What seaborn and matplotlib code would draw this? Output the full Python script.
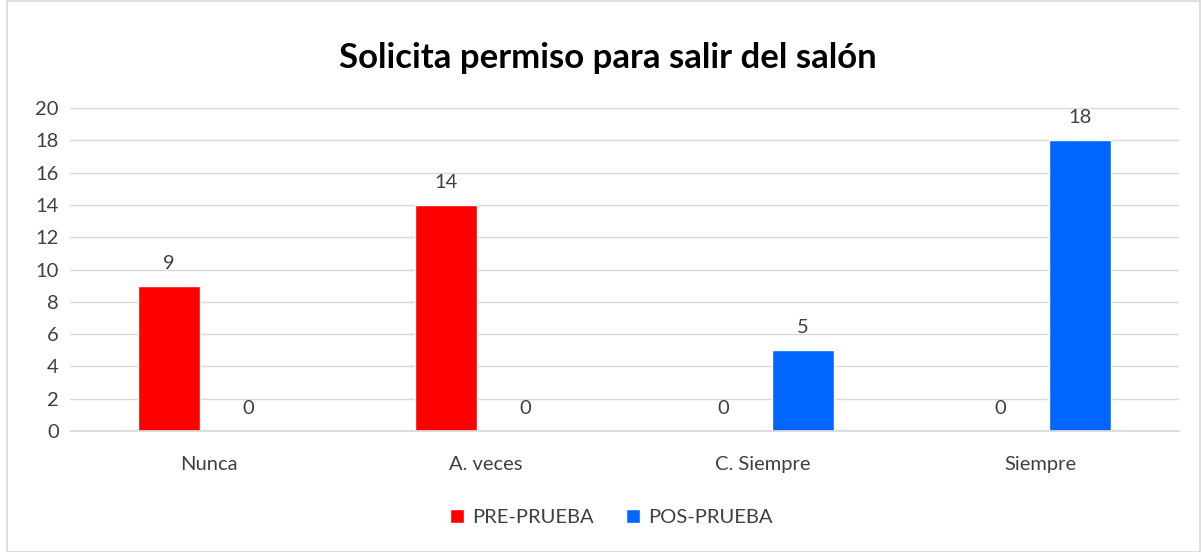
import matplotlib
matplotlib.use("Agg")
import matplotlib.pyplot as plt
import seaborn as sns
import pandas as pd
from matplotlib.patches import Rectangle

categories = ["Nunca", "A. veces", "C. Siempre", "Siempre"]
pre_prueba = [9, 14, 0, 0]
pos_prueba = [0, 0, 5, 18]
series_names = ["PRE-PRUEBA", "POS-PRUEBA"]
colors = ["#FF0000", "#0066FF"]
title = "Solicita permiso para salir del salón"

df = pd.DataFrame({
    "cat": categories * 2,
    "val": pre_prueba + pos_prueba,
    "serie": [series_names[0]] * 4 + [series_names[1]] * 4,
})

sns.set_theme(style="white")
plt.rcParams["font.family"] = ["Lato", "DejaVu Sans"]

fig = plt.figure(figsize=(12.01, 5.52), dpi=100)
ax = fig.add_axes([0.0583, 0.2192, 0.9234, 0.5851])

sns.barplot(data=df, x="cat", y="val", hue="serie", order=categories,
            hue_order=series_names, palette=colors, width=0.573, gap=0.22,
            ax=ax, legend=True, saturation=1)

ax.set_ylim(0, 20)
ax.set_yticks(range(0, 21, 2))
ax.set_xlim(-0.5, 3.5)
ax.yaxis.grid(True, color="#D9D9D9", linewidth=1)
ax.set_axisbelow(True)
for s in ["top", "right", "left"]:
    ax.spines[s].set_visible(False)
ax.spines["bottom"].set_color("#D9D9D9")
ax.tick_params(axis="both", length=0, labelsize=14.5, colors="#404040")
ax.tick_params(axis="x", pad=18)
ax.tick_params(axis="y", pad=8)
ax.set_xlabel("")
ax.set_ylabel("")

for cont in ax.containers:
    ax.bar_label(cont, fmt="%d", padding=10, fontsize=14.5, color="#404040")

h, l = ax.get_legend_handles_labels()
ax.legend_.remove()
fig.legend(h, l, loc="center", bbox_to_anchor=(0.509, 0.063), ncol=2, frameon=False,
           fontsize=14.5, handlelength=0.7, handleheight=0.7, handletextpad=0.4,
           columnspacing=1.6, labelcolor="#404040")

fig.text(0.506, 0.895, title, ha="center", va="center", fontsize=25, fontweight="bold",
         color="black")

fig.patches.append(Rectangle((0.006, 0.0), 0.993, 0.998, transform=fig.transFigure,
                             fill=False, edgecolor="#D9D9D9", linewidth=1.2))

fig.savefig("out.png", dpi=100)
